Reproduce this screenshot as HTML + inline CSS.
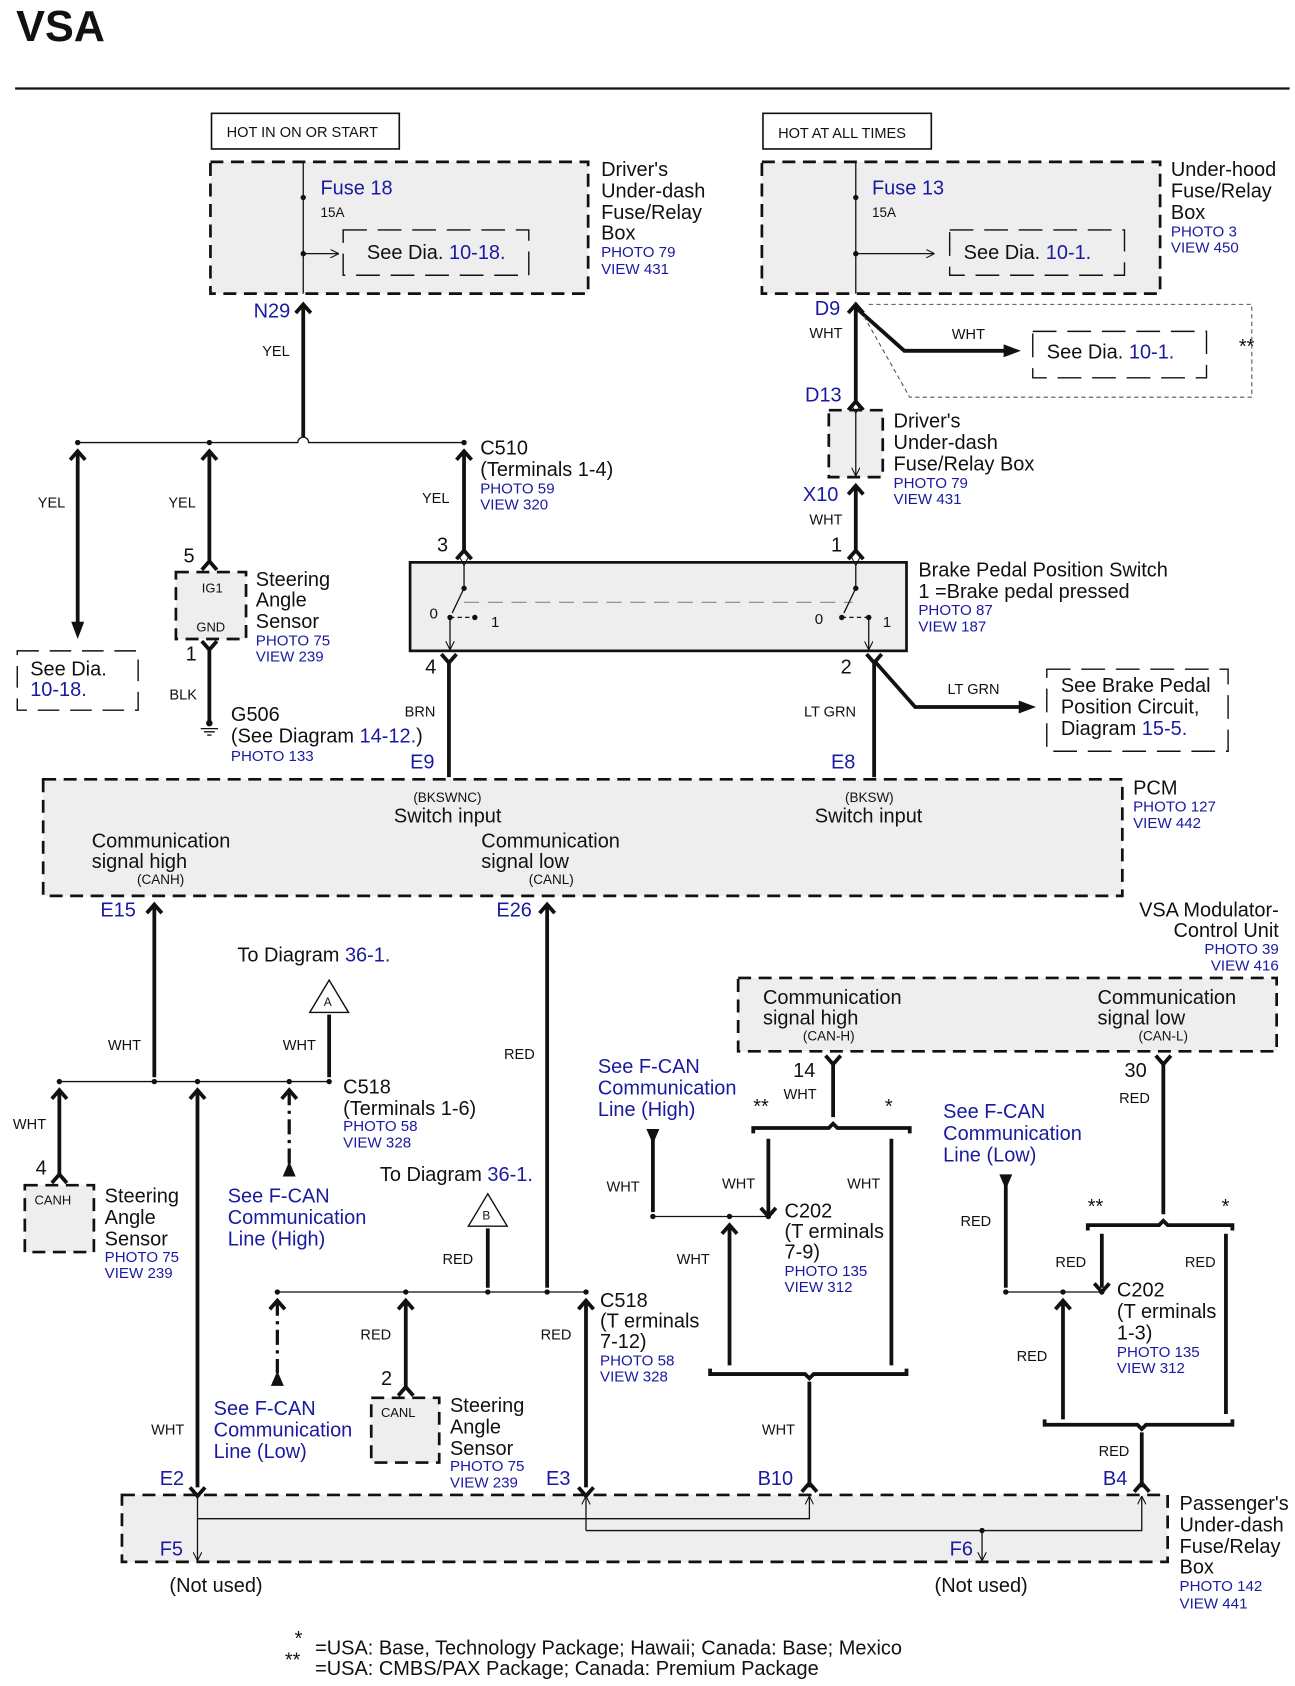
<!DOCTYPE html>
<html><head><meta charset="utf-8"><style>
html,body{margin:0;padding:0;background:#fff}
svg{display:block}
text{font-family:"Liberation Sans",Arial,sans-serif;font-size:18.5px;fill:#111}
.s{font-size:14px;fill:#1a1aa0}
.b{fill:#1a1aa0}
.w{font-size:13.5px;fill:#111}
.k{font-size:12px}
.th{stroke:#111;stroke-width:3.5;fill:none}
.tn{stroke:#111;stroke-width:1.2;fill:none}
.db{stroke:#111;stroke-width:2.5;fill:#eeeeee;stroke-dasharray:12,7}
.di{stroke:#111;stroke-width:1.3;fill:none;stroke-dasharray:22,10}
.dd{stroke:#111;stroke-width:3;fill:none;stroke-dasharray:14,5,3,5}
</style></head><body>
<svg width="1295" height="1686" viewBox="0 0 1200 1562" preserveAspectRatio="none" xmlns="http://www.w3.org/2000/svg">
<defs>
<marker id="ar" markerWidth="8" markerHeight="8" refX="7" refY="4" orient="auto" markerUnits="userSpaceOnUse"><path d="M0,0L8,4L0,8" fill="none" stroke="#111" stroke-width="1"/></marker>
<marker id="af" markerWidth="16" markerHeight="12" refX="2" refY="6" orient="auto" markerUnits="userSpaceOnUse"><path d="M0,0L16,6L0,12Z" fill="#111"/></marker>
</defs>
<text x="15" y="38" style="font-size:40px;font-weight:bold">VSA</text>
<line x1="14" y1="82" x2="1195" y2="82" stroke="#111" stroke-width="2"/>

<rect x="196" y="105" width="174" height="33" fill="#fff" stroke="#111" stroke-width="1.5"/>
<text x="210" y="127" style="font-size:13.5px">HOT IN ON OR START</text>
<rect x="707" y="105" width="156" height="33" fill="#fff" stroke="#111" stroke-width="1.5"/>
<text x="721" y="128" style="font-size:13.5px">HOT AT ALL TIMES</text>

<rect class="db" x="195" y="150" width="350" height="122"/>
<line class="tn" x1="281" y1="150" x2="281" y2="272"/>
<circle cx="281" cy="183" r="2.5" fill="#111"/>
<line class="tn" x1="281" y1="235" x2="313" y2="235" marker-end="url(#ar)"/>
<circle cx="281" cy="235" r="2.5" fill="#111"/>
<rect class="di" x="318" y="213" width="172" height="42"/>
<text x="297" y="180" class="b">Fuse 18</text>
<text x="297" y="201" style="font-size:12.5px">15A</text>
<text x="340" y="240">See Dia. <tspan class="b">10-18.</tspan></text>
<text x="557" y="163">Driver's</text><text x="557" y="183">Under-dash</text><text x="557" y="203">Fuse/Relay</text><text x="557" y="222">Box</text>
<text x="557" y="238" class="s">PHOTO 79</text><text x="557" y="254" class="s">VIEW 431</text>

<rect class="db" x="706" y="150" width="369" height="122"/>
<line class="tn" x1="793" y1="150" x2="793" y2="272"/>
<circle cx="793" cy="183" r="2.5" fill="#111"/>
<line class="tn" x1="793" y1="235" x2="865" y2="235" marker-end="url(#ar)"/>
<circle cx="793" cy="235" r="2.5" fill="#111"/>
<rect class="di" x="880" y="213" width="162" height="42"/>
<text x="808" y="180" class="b">Fuse 13</text>
<text x="808" y="201" style="font-size:12.5px">15A</text>
<text x="893" y="240">See Dia. <tspan class="b">10-1.</tspan></text>
<text x="1085" y="163">Under-hood</text><text x="1085" y="183">Fuse/Relay</text><text x="1085" y="203">Box</text>
<text x="1085" y="219" class="s">PHOTO 3</text><text x="1085" y="234" class="s">VIEW 450</text>

<text x="235" y="294" class="b">N29</text>
<path class="th" d="M281,282 V405"/><path class="th" d="M274,290 L281,282 L288,290"/>
<text x="243" y="330" class="w">YEL</text>
<path class="tn" d="M72,410 H276 a5,5 0 0 1 10,0 H430"/>
<circle cx="72" cy="410" r="2.5" fill="#111"/><circle cx="194" cy="410" r="2.5" fill="#111"/><circle cx="430" cy="410" r="2.5" fill="#111"/>
<path class="th" d="M72,418 V578" marker-end="url(#af)"/>
<path class="th" d="M65,426 L72,418 L79,426 M187,426 L194,418 L201,426 M423,426 L430,418 L437,426"/>
<text x="35" y="470" class="w">YEL</text>
<path class="th" d="M194,418 V522"/><path class="th" d="M187,528 L194,520 L201,528"/>
<text x="156" y="470" class="w">YEL</text>
<path class="th" d="M430,418 V512"/><path class="th" d="M423,518 L430,510 L437,518"/>
<text x="391" y="466" class="w">YEL</text>
<text x="445" y="421">C510</text><text x="445" y="441">(Terminals 1-4)</text>
<text x="445" y="457" class="s">PHOTO 59</text><text x="445" y="472" class="s">VIEW 320</text>

<rect class="di" x="16" y="603" width="112" height="55" style="stroke-dasharray:20,10"/>
<text x="28" y="626">See Dia.</text><text x="28" y="645" class="b">10-18.</text>

<rect class="db" x="163" y="530" width="65" height="62"/>
<text x="187" y="549" style="font-size:12px">IG1</text><text x="182" y="585" style="font-size:12px">GND</text>
<text x="170" y="521">5</text><text x="172" y="612">1</text>
<text x="237" y="543">Steering</text><text x="237" y="562">Angle</text><text x="237" y="582">Sensor</text>
<text x="237" y="598" class="s">PHOTO 75</text><text x="237" y="613" class="s">VIEW 239</text>
<path class="th" d="M194,600 V668"/><path class="th" d="M187,594 L194,602 L201,594"/>
<text x="157" y="648" class="w">BLK</text>
<circle cx="194" cy="670" r="3" fill="#111"/>
<path class="tn" d="M186,675 H202 M189,678 H199 M192,681 H196"/>
<text x="214" y="668">G506</text><text x="214" y="688">(See Diagram <tspan class="b">14-12.</tspan>)</text>
<text x="214" y="705" class="s">PHOTO 133</text>

<text x="755" y="292" class="b">D9</text>
<text x="750" y="313" class="w">WHT</text>
<path class="th" d="M793,282 V372"/><path class="th" d="M786,290 L793,282 L800,290"/>
<path class="th" d="M793,285 L838,325 H932" marker-end="url(#af)"/>
<text x="882" y="314" class="w">WHT</text>
<rect class="di" x="957" y="307" width="161" height="43"/>
<text x="970" y="332">See Dia. <tspan class="b">10-1.</tspan></text>
<path d="M805,282 H1160 V368 H843 L800,292" fill="none" stroke="#555" stroke-width="1" stroke-dasharray="4,3"/>
<text x="1148" y="327">**</text>
<text x="746" y="372" class="b">D13</text>
<path class="th" d="M786,380 L793,372 L800,380"/>
<rect class="db" x="768" y="380" width="50" height="62"/>
<line class="tn" x1="793" y1="382" x2="793" y2="440" marker-start="url(#ar)" marker-end="url(#ar)"/>
<text x="828" y="396">Driver's</text><text x="828" y="416">Under-dash</text><text x="828" y="436">Fuse/Relay Box</text>
<text x="828" y="452" class="s">PHOTO 79</text><text x="828" y="467" class="s">VIEW 431</text>
<text x="744" y="464" class="b">X10</text>
<text x="750" y="486" class="w">WHT</text>
<path class="th" d="M793,452 V512"/><path class="th" d="M786,458 L793,450 L800,458 M786,518 L793,510 L800,518"/>

<rect x="380" y="521" width="460" height="82" fill="#eee" stroke="#111" stroke-width="2.5"/>
<text x="405" y="511">3</text><text x="770" y="511">1</text>
<text x="394" y="624">4</text><text x="779" y="624">2</text>
<line class="tn" x1="430" y1="523" x2="430" y2="545" marker-start="url(#ar)"/>
<circle cx="430" cy="545" r="2.5" fill="#111"/>
<line class="tn" x1="430" y1="545" x2="419" y2="568"/>
<circle cx="417" cy="572" r="2.5" fill="#111"/><circle cx="440" cy="572" r="2.5" fill="#111"/>
<line class="tn" x1="417" y1="572" x2="440" y2="572" stroke-dasharray="4,3"/>
<line class="tn" x1="417" y1="572" x2="417" y2="601" marker-end="url(#ar)"/>
<line x1="430" y1="558" x2="790" y2="558" stroke="#888" stroke-width="1" stroke-dasharray="14,8"/>
<line class="tn" x1="793" y1="523" x2="793" y2="545" marker-start="url(#ar)"/>
<circle cx="793" cy="545" r="2.5" fill="#111"/>
<line class="tn" x1="793" y1="545" x2="782" y2="568"/>
<circle cx="780" cy="572" r="2.5" fill="#111"/><circle cx="805" cy="572" r="2.5" fill="#111"/>
<line class="tn" x1="780" y1="572" x2="805" y2="572" stroke-dasharray="4,3"/>
<line class="tn" x1="805" y1="572" x2="805" y2="601" marker-end="url(#ar)"/>
<text x="398" y="573" style="font-size:14px">0</text><text x="455" y="581" style="font-size:14px">1</text>
<text x="755" y="578" style="font-size:14px">0</text><text x="818" y="581" style="font-size:14px">1</text>
<text x="851" y="534">Brake Pedal Position Switch</text><text x="851" y="554">1 =Brake pedal pressed</text>
<text x="851" y="570" class="s">PHOTO 87</text><text x="851" y="585" class="s">VIEW 187</text>

<path class="th" d="M416,612 V720"/><path class="th" d="M409,606 L416,614 L423,606"/>
<text x="375" y="664" class="w">BRN</text>
<path class="th" d="M810,612 V720"/><path class="th" d="M803,606 L810,614 L817,606"/>
<text x="745" y="664" class="w">LT GRN</text>
<path class="th" d="M810,612 L848,655 H946" marker-end="url(#af)"/>
<text x="878" y="643" class="w">LT GRN</text>
<rect class="di" x="970" y="620" width="168" height="76"/>
<text x="983" y="641">See Brake Pedal</text><text x="983" y="661">Position Circuit,</text><text x="983" y="681">Diagram <tspan class="b">15-5.</tspan></text>
<text x="380" y="712" class="b">E9</text><text x="770" y="712" class="b">E8</text>

<rect class="db" x="40" y="722" width="1000" height="108"/>
<text x="383" y="743" style="font-size:12.5px">(BKSWNC)</text><text x="365" y="762">Switch input</text>
<text x="783" y="743" style="font-size:12.5px">(BKSW)</text><text x="755" y="762">Switch input</text>
<text x="85" y="785">Communication</text><text x="85" y="804">signal high</text><text x="127" y="819" style="font-size:12.5px">(CANH)</text>
<text x="446" y="785">Communication</text><text x="446" y="804">signal low</text><text x="490" y="819" style="font-size:12.5px">(CANL)</text>
<text x="1050" y="736">PCM</text><text x="1050" y="752" class="s">PHOTO 127</text><text x="1050" y="767" class="s">VIEW 442</text>

<text x="93" y="849" class="b">E15</text><text x="460" y="849" class="b">E26</text>
<path class="th" d="M143,838 V998"/><path class="th" d="M136,846 L143,838 L150,846"/>
<path class="th" d="M507,838 V1193"/><path class="th" d="M500,846 L507,838 L514,846"/>
<text x="467" y="981" class="w">RED</text>
<text x="220" y="891">To Diagram <tspan class="b">36-1.</tspan></text>
<path d="M305,908 L287,938 H323Z" fill="#fff" stroke="#111" stroke-width="1.3"/>
<text x="300" y="932" style="font-size:11px">A</text>
<path class="th" d="M305,940 V998"/>
<text x="262" y="973" class="w">WHT</text><text x="100" y="973" class="w">WHT</text>
<path class="tn" d="M55,1002 H305"/>
<circle cx="55" cy="1002" r="2.5" fill="#111"/><circle cx="143" cy="1002" r="2.5" fill="#111"/><circle cx="183" cy="1002" r="2.5" fill="#111"/><circle cx="268" cy="1002" r="2.5" fill="#111"/><circle cx="305" cy="1002" r="2.5" fill="#111"/>
<path class="th" d="M48,1018 L55,1010 L62,1018 M176,1018 L183,1010 L190,1018 M261,1018 L268,1010 L275,1018"/>
<path class="th" d="M55,1010 V1090"/><path class="th" d="M48,1096 L55,1088 L62,1096"/>
<text x="12" y="1046" class="w">WHT</text><text x="33" y="1088">4</text>
<rect class="db" x="23" y="1098" width="64" height="62"/>
<text x="32" y="1116" style="font-size:12px">CANH</text>
<text x="97" y="1114">Steering</text><text x="97" y="1134">Angle</text><text x="97" y="1154">Sensor</text>
<text x="97" y="1169" class="s">PHOTO 75</text><text x="97" y="1184" class="s">VIEW 239</text>
<path class="th" d="M183,1010 V1378"/>
<text x="140" y="1329" class="w">WHT</text>
<path class="dd" d="M268,1010 V1078"/><path d="M262,1090 L268,1076 L274,1090Z" fill="#111"/>
<text x="211" y="1114" class="b">See F-CAN</text><text x="211" y="1134" class="b">Communication</text><text x="211" y="1154" class="b">Line (High)</text>
<text x="318" y="1013">C518</text><text x="318" y="1033">(Terminals 1-6)</text>
<text x="318" y="1048" class="s">PHOTO 58</text><text x="318" y="1063" class="s">VIEW 328</text>

<text x="352" y="1094">To Diagram <tspan class="b">36-1.</tspan></text>
<path d="M452,1106 L434,1136 H470Z" fill="#fff" stroke="#111" stroke-width="1.3"/>
<text x="447" y="1130" style="font-size:11px">B</text>
<path class="th" d="M452,1138 V1193"/>
<text x="410" y="1171" class="w">RED</text>
<path class="tn" d="M257,1197 H543"/>
<circle cx="257" cy="1197" r="2.5" fill="#111"/><circle cx="376" cy="1197" r="2.5" fill="#111"/><circle cx="452" cy="1197" r="2.5" fill="#111"/><circle cx="507" cy="1197" r="2.5" fill="#111"/><circle cx="543" cy="1197" r="2.5" fill="#111"/>
<path class="th" d="M250,1213 L257,1205 L264,1213 M369,1213 L376,1205 L383,1213 M536,1213 L543,1205 L550,1213"/>
<path class="dd" d="M257,1205 V1272"/><path d="M251,1284 L257,1270 L263,1284Z" fill="#111"/>
<text x="198" y="1311" class="b">See F-CAN</text><text x="198" y="1331" class="b">Communication</text><text x="198" y="1351" class="b">Line (Low)</text>
<path class="th" d="M376,1205 V1285"/><path class="th" d="M369,1293 L376,1285 L383,1293"/>
<text x="334" y="1241" class="w">RED</text><text x="353" y="1283">2</text>
<rect class="db" x="344" y="1295" width="63" height="60"/>
<text x="353" y="1313" style="font-size:12px">CANL</text>
<text x="417" y="1308">Steering</text><text x="417" y="1328">Angle</text><text x="417" y="1348">Sensor</text>
<text x="417" y="1363" class="s">PHOTO 75</text><text x="417" y="1378" class="s">VIEW 239</text>
<path class="th" d="M543,1205 V1378"/>
<text x="501" y="1241" class="w">RED</text>
<text x="556" y="1211">C518</text><text x="556" y="1230">(T erminals</text><text x="556" y="1249">7-12)</text>
<text x="556" y="1265" class="s">PHOTO 58</text><text x="556" y="1280" class="s">VIEW 328</text>
<text x="148" y="1376" class="b">E2</text><text x="506" y="1376" class="b">E3</text>

<text x="1185" y="849" text-anchor="end">VSA Modulator-</text><text x="1185" y="868" text-anchor="end">Control Unit</text>
<text x="1185" y="884" class="s" text-anchor="end">PHOTO 39</text><text x="1185" y="899" class="s" text-anchor="end">VIEW 416</text>
<rect class="db" x="684" y="906" width="499" height="68"/>
<text x="707" y="930">Communication</text><text x="707" y="949">signal high</text><text x="744" y="964" style="font-size:12.5px">(CAN-H)</text>
<text x="1017" y="930">Communication</text><text x="1017" y="949">signal low</text><text x="1055" y="964" style="font-size:12.5px">(CAN-L)</text>
<text x="735" y="998">14</text><text x="1042" y="998">30</text>
<path class="th" d="M772,984 V1035"/><path class="th" d="M765,978 L772,986 L779,978"/>
<text x="726" y="1018" class="w">WHT</text>
<path class="th" d="M1078,984 V1125"/><path class="th" d="M1071,978 L1078,986 L1085,978"/>
<text x="1037" y="1022" class="w">RED</text>

<path class="th" d="M698,1050 V1045 H768 L772,1041 L776,1045 H843 V1050"/>
<text x="698" y="1031">**</text><text x="820" y="1031">*</text>
<path class="th" d="M712,1055 V1125 M826,1055 V1265"/>
<text x="669" y="1101" class="w">WHT</text><text x="785" y="1101" class="w">WHT</text>
<text x="554" y="994" class="b">See F-CAN</text><text x="554" y="1014" class="b">Communication</text><text x="554" y="1034" class="b">Line (High)</text>
<path d="M599,1046 L605,1060 L611,1046Z" fill="#111"/>
<path class="th" d="M605,1055 V1123"/>
<text x="562" y="1104" class="w">WHT</text>
<path class="tn" d="M605,1127 H712"/>
<circle cx="605" cy="1127" r="2.5" fill="#111"/><circle cx="676" cy="1127" r="2.5" fill="#111"/><circle cx="712" cy="1127" r="2.5" fill="#111"/>
<path class="th" d="M669,1143 L676,1135 L683,1143 M705,1119 L712,1127 L719,1119"/>
<path class="th" d="M676,1135 V1265"/>
<text x="627" y="1171" class="w">WHT</text>
<text x="727" y="1128">C202</text><text x="727" y="1147">(T erminals</text><text x="727" y="1166">7-9)</text>
<text x="727" y="1182" class="s">PHOTO 135</text><text x="727" y="1197" class="s">VIEW 312</text>
<path class="th" d="M658,1268 V1273 H746 L750,1277 L754,1273 H840 V1268"/>
<path class="th" d="M750,1280 V1378"/><path class="th" d="M743,1382 L750,1374 L757,1382"/>
<text x="706" y="1329" class="w">WHT</text><text x="702" y="1376" class="b">B10</text>

<text x="874" y="1036" class="b">See F-CAN</text><text x="874" y="1056" class="b">Communication</text><text x="874" y="1076" class="b">Line (Low)</text>
<path d="M926,1088 L932,1102 L938,1088Z" fill="#111"/>
<path class="th" d="M932,1097 V1193"/>
<text x="890" y="1136" class="w">RED</text>
<text x="1008" y="1124">**</text><text x="1132" y="1124">*</text>
<path class="th" d="M1008,1140 V1135 H1074 L1078,1131 L1082,1135 H1142 V1140"/>
<path class="th" d="M1021,1143 V1193 M1136,1143 V1310"/>
<path class="th" d="M1014,1189 L1021,1197 L1028,1189"/>
<text x="978" y="1174" class="w">RED</text><text x="1098" y="1174" class="w">RED</text>
<path class="tn" d="M932,1197 H1021"/>
<circle cx="932" cy="1197" r="2.5" fill="#111"/><circle cx="985" cy="1197" r="2.5" fill="#111"/><circle cx="1021" cy="1197" r="2.5" fill="#111"/>
<path class="th" d="M978,1213 L985,1205 L992,1213"/>
<path class="th" d="M985,1205 V1315"/>
<text x="942" y="1261" class="w">RED</text>
<text x="1035" y="1201">C202</text><text x="1035" y="1221">(T erminals</text><text x="1035" y="1241">1-3)</text>
<text x="1035" y="1257" class="s">PHOTO 135</text><text x="1035" y="1272" class="s">VIEW 312</text>
<path class="th" d="M968,1315 V1320 H1054 L1058,1324 L1062,1320 H1142 V1315"/>
<path class="th" d="M1058,1327 V1378"/><path class="th" d="M1051,1382 L1058,1374 L1065,1382"/>
<text x="1018" y="1349" class="w">RED</text><text x="1022" y="1376" class="b">B4</text>

<rect class="db" x="113" y="1385" width="969" height="62"/>
<line class="tn" x1="183" y1="1387" x2="183" y2="1445" marker-start="url(#ar)" marker-end="url(#ar)"/>
<path class="tn" d="M183,1407 H750 V1387" marker-end="url(#ar)"/>
<line class="tn" x1="543" y1="1418" x2="543" y2="1387" marker-end="url(#ar)"/>
<path class="tn" d="M543,1418 H1058 V1387" marker-end="url(#ar)"/>
<circle cx="910" cy="1418" r="2.5" fill="#111"/>
<line class="tn" x1="910" y1="1418" x2="910" y2="1445" marker-end="url(#ar)"/>
<path class="th" d="M176,1378 L183,1386 L190,1378 M536,1378 L543,1386 L550,1378"/>
<text x="148" y="1441" class="b">F5</text><text x="880" y="1441" class="b">F6</text>
<text x="157" y="1475">(Not used)</text><text x="866" y="1475">(Not used)</text>
<text x="1093" y="1399">Passenger's</text><text x="1093" y="1419">Under-dash</text><text x="1093" y="1439">Fuse/Relay</text><text x="1093" y="1458">Box</text>
<text x="1093" y="1474" class="s">PHOTO 142</text><text x="1093" y="1490" class="s">VIEW 441</text>

<text x="273" y="1524">*</text><text x="292" y="1533">=USA: Base, Technology Package; Hawaii; Canada: Base; Mexico</text>
<text x="264" y="1544">**</text><text x="292" y="1552">=USA: CMBS/PAX Package; Canada: Premium Package</text>
</svg>
</body></html>
